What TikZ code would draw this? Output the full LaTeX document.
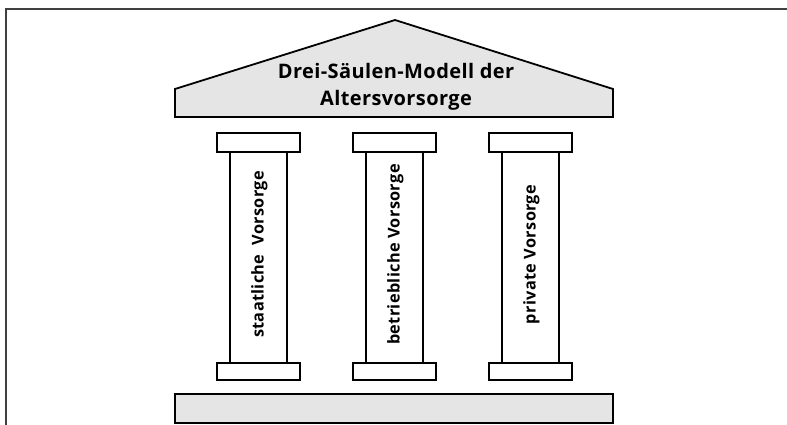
\documentclass[tikz,border=0pt]{standalone}
\usepackage{fontspec}
\setmainfont{Open Sans}
\begin{document}
\begin{tikzpicture}[x=1pt,y=-1pt,
  part/.style={draw=black,line width=1.8pt,line join=miter},
  grayfill/.style={part,fill=gray!20},
  whitefill/.style={part,fill=white},
  coltext/.style={rotate=90,font=\bfseries\fontsize{16.3}{18}\selectfont\addfontfeatures{LetterSpace=2},inner sep=0pt},
  titletext/.style={anchor=base,font=\bfseries\fontsize{20}{22}\selectfont\addfontfeatures{LetterSpace=2},inner sep=0pt}]
\useasboundingbox (0,0) rectangle (787,425);
% frame
\draw[line width=1.8pt,draw=black!75] (6,425) -- (6,9) -- (787,9);
% roof
\draw[grayfill] (175,117) -- (175,89) -- (395,20) -- (613,89) -- (613,117) -- cycle;
\node[titletext] (title1) at (396,79) {Drei-Säulen-Modell der};
\node[titletext] (title2) at (396,106) {Altersvorsorge};
% stylobate
\draw[grayfill] (175,394) rectangle (613,423);
% columns
\foreach \n/\cx/\txt in {a/258.5/{staatliche\ \ Vorsorge},b/394.5/{betriebliche Vorsorge},c/530.5/{private Vorsorge}}{
  \draw[whitefill] (\cx-28.5,152) rectangle (\cx+28.5,363);
  \draw[whitefill] (\cx-41.5,133) rectangle (\cx+41.5,152);
  \draw[whitefill] (\cx-41.5,363) rectangle (\cx+41.5,380);
  \node[coltext] (t\n) at (\cx+1,254.5) {\txt};
}
\end{tikzpicture}
\end{document}
